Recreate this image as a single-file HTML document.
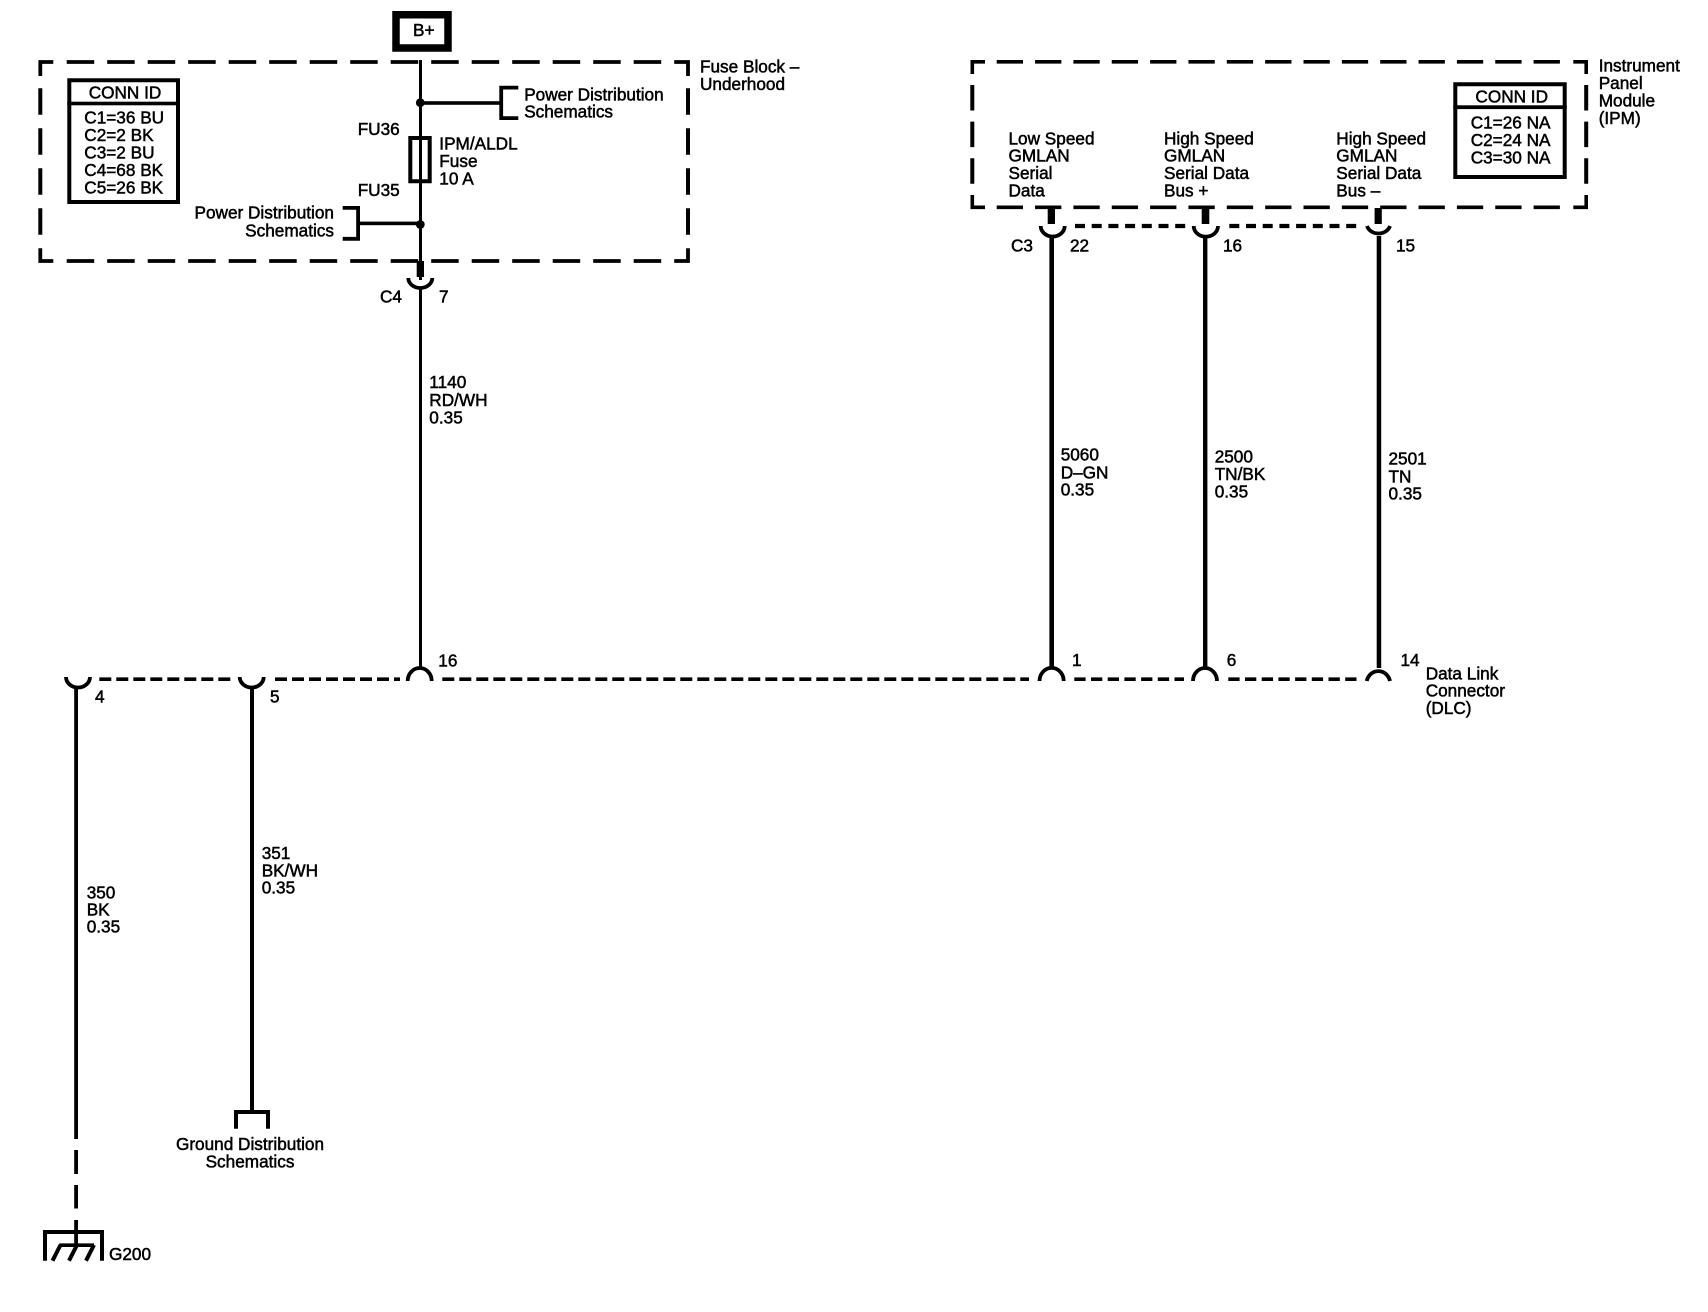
<!DOCTYPE html>
<html>
<head>
<meta charset="utf-8">
<style>
html,body{margin:0;padding:0;background:#fff;width:1708px;height:1312px;overflow:hidden}
svg{display:block}
text{font-family:"Liberation Sans",sans-serif;font-size:17.2px;fill:#000;stroke:#000;stroke-width:.5px}
.e{text-anchor:end}.m{text-anchor:middle}
rect{fill:#000}
.l{fill:none;stroke:#000}
</style>
</head>
<body>
<svg width="1708" height="1312" viewBox="0 0 1708 1312" xmlns="http://www.w3.org/2000/svg">
<rect x="0" y="0" width="1708" height="1312" style="fill:#fff"/>

<!-- B+ -->
<path d="M396,14.7H448V48H396Z" class="l" stroke-width="7.5"/>
<text x="413" y="36">B+</text>

<!-- Fuse block dashed outline -->
<path class="l" stroke-width="3.8" d="M40.3,76V62H53.3"/>
<path class="l" stroke-width="3.8" stroke-dasharray="27.5 13" d="M66.7,62H672"/>
<path class="l" stroke-width="3.8" d="M674.2,62H688V76"/>
<path class="l" stroke-width="3.8" d="M40.3,248.3V261H53.3"/>
<path class="l" stroke-width="3.8" stroke-dasharray="27.5 13" d="M66.7,261H672"/>
<path class="l" stroke-width="3.8" d="M674.2,261H688V248.3"/>
<path class="l" stroke-width="4" stroke-dasharray="26.5 13.5" d="M40.3,88.3V236"/>
<path class="l" stroke-width="4" stroke-dasharray="26.5 13.5" d="M688,88.3V236"/>

<!-- Left CONN ID -->
<path class="l" stroke-width="4" d="M69.3,80.3H178V202H69.3Z"/>
<rect x="67.3" y="101.7" width="112.7" height="3.6"/>
<text x="125" y="98.7" class="m">CONN ID</text>
<text x="84.3" y="123.5">C1=36 BU</text>
<text x="84.3" y="141">C2=2 BK</text>
<text x="84.3" y="158.5">C3=2 BU</text>
<text x="84.3" y="176">C4=68 BK</text>
<text x="84.3" y="193.5">C5=26 BK</text>

<!-- Main wire -->
<rect x="419" y="60" width="3" height="220"/>
<circle cx="420.3" cy="102.7" r="4.4"/>
<circle cx="420.3" cy="224.5" r="4.4"/>
<rect x="420" y="101.2" width="80" height="3.6"/>
<path class="l" stroke-width="3.8" d="M518.3,87.6H501.2V118.1H518.3"/>
<text x="524.2" y="100.7">Power Distribution</text>
<text x="524.2" y="117.5">Schematics</text>

<text x="357.7" y="135">FU36</text>
<text x="357.7" y="196">FU35</text>
<path class="l" stroke-width="4" d="M410.3,138H429.7V181.3H410.3Z"/>
<text x="439.3" y="149.5">IPM/ALDL</text>
<text x="439.3" y="167">Fuse</text>
<text x="439.3" y="184.3">10 A</text>

<path class="l" stroke-width="3.8" d="M342.7,207.9H358.1V238.8H342.7"/>
<rect x="358" y="221.6" width="62" height="3.6"/>
<text x="334" y="218.5" class="e">Power Distribution</text>
<text x="334" y="236.5" class="e">Schematics</text>

<text x="700" y="72.3">Fuse Block –</text>
<text x="700" y="90">Underhood</text>

<!-- C4 -->
<rect x="416.7" y="261" width="7.3" height="16"/>
<path class="l" stroke-width="3.8" d="M408.3,278A12,10 0 0 0 432.3,278"/>
<rect x="419" y="288" width="3" height="380"/>
<text x="380" y="302.7">C4</text>
<text x="439" y="302.7">7</text>
<text x="429.3" y="388">1140</text>
<text x="429.3" y="406">RD/WH</text>
<text x="429.3" y="423.3">0.35</text>

<!-- IPM dashed outline -->
<path class="l" stroke-width="3.6" d="M972.3,74V61.8H985"/>
<path class="l" stroke-width="3.6" stroke-dasharray="26.3 12.05" d="M996.7,61.8H1562"/>
<path class="l" stroke-width="3.6" d="M1573.3,61.8H1586.2V74"/>
<path class="l" stroke-width="3.6" d="M972.3,195V207.3H985"/>
<path class="l" stroke-width="3.6" stroke-dasharray="26.3 12.05" d="M996.7,207.3H1562"/>
<path class="l" stroke-width="3.6" d="M1573.3,207.3H1586.2V195"/>
<path class="l" stroke-width="4" stroke-dasharray="25.5 11.1" d="M972.3,85V184"/>
<path class="l" stroke-width="4" stroke-dasharray="25.5 11.1" d="M1586.2,85V184"/>

<text x="1008.5" y="144.3">Low Speed</text>
<text x="1008.5" y="161.7">GMLAN</text>
<text x="1008.5" y="179">Serial</text>
<text x="1008.5" y="196.3">Data</text>
<text x="1164" y="144.3">High Speed</text>
<text x="1164" y="161.7">GMLAN</text>
<text x="1164" y="179">Serial Data</text>
<text x="1164" y="196.3">Bus +</text>
<text x="1336.3" y="144.3">High Speed</text>
<text x="1336.3" y="161.7">GMLAN</text>
<text x="1336.3" y="179">Serial Data</text>
<text x="1336.3" y="196.3">Bus –</text>

<!-- Right CONN ID -->
<path class="l" stroke-width="4" d="M1455.3,84.3H1564.7V177H1455.3Z"/>
<rect x="1453.3" y="105.3" width="113.4" height="3.8"/>
<text x="1511.7" y="102.3" class="m">CONN ID</text>
<text x="1470.7" y="128.7">C1=26 NA</text>
<text x="1470.7" y="146">C2=24 NA</text>
<text x="1470.7" y="163.3">C3=30 NA</text>

<text x="1598.7" y="71.7">Instrument</text>
<text x="1598.7" y="89">Panel</text>
<text x="1598.7" y="106.3">Module</text>
<text x="1598.7" y="124">(IPM)</text>

<!-- C3 connectors -->
<rect x="1047.7" y="208" width="7.3" height="16"/>
<rect x="1201.7" y="208" width="7.6" height="16"/>
<rect x="1374.6" y="208" width="7.2" height="16"/>
<path class="l" stroke-width="3.8" d="M1040.7,226A12,10.5 0 0 0 1064.7,226"/>
<path class="l" stroke-width="3.8" d="M1193.7,226A12,10.5 0 0 0 1218,226"/>
<path class="l" stroke-width="3.8" d="M1367,226A12,10.5 0 0 0 1390,226"/>
<path class="l" stroke-width="4.2" stroke-dasharray="10 6.7" d="M1075,226H1187"/>
<path class="l" stroke-width="4.2" stroke-dasharray="10 6.7" d="M1229.3,226H1357"/>
<rect x="1049.4" y="236" width="4.6" height="432"/>
<rect x="1203" y="236" width="4.4" height="432"/>
<rect x="1376.7" y="236" width="4.5" height="432"/>
<text x="1011" y="251.3">C3</text>
<text x="1070" y="251.3">22</text>
<text x="1223" y="251.3">16</text>
<text x="1396" y="251.3">15</text>

<text x="1060.7" y="460.7">5060</text>
<text x="1060.7" y="478.3">D–GN</text>
<text x="1060.7" y="495.7">0.35</text>
<text x="1214.7" y="462.5">2500</text>
<text x="1214.7" y="480">TN/BK</text>
<text x="1214.7" y="497.7">0.35</text>
<text x="1388.5" y="464.7">2501</text>
<text x="1388.5" y="482.3">TN</text>
<text x="1388.5" y="499.7">0.35</text>

<!-- DLC bus -->
<path class="l" stroke-width="3.7" stroke-dasharray="12 5" d="M99.3,679.2H231"/>
<path class="l" stroke-width="3.7" stroke-dasharray="12 5" d="M275,679.2H400"/>
<path class="l" stroke-width="3.7" stroke-dasharray="12 5" d="M442.3,679.2H1029"/>
<path class="l" stroke-width="3.7" stroke-dasharray="11.3 5.4" d="M1074.3,679.2H1184"/>
<path class="l" stroke-width="3.7" stroke-dasharray="11.3 5.4" d="M1228.3,679.2H1357"/>

<path class="l" stroke-width="3.8" d="M66,677A12,10.5 0 0 0 90,677"/>
<path class="l" stroke-width="3.8" d="M239.7,677A12,10.5 0 0 0 263.7,677"/>
<path class="l" stroke-width="3.8" d="M407.7,681A12,13 0 0 1 431.7,681"/>
<path class="l" stroke-width="3.8" d="M1039.5,681A12,13 0 0 1 1063.7,681"/>
<path class="l" stroke-width="3.8" d="M1193,681A12,13 0 0 1 1217,681"/>
<path class="l" stroke-width="3.8" d="M1366.7,681A12,13 0 0 1 1390,681"/>

<text x="438.3" y="666.7">16</text>
<text x="1072" y="666">1</text>
<text x="1226.7" y="666">6</text>
<text x="1400.5" y="666">14</text>
<text x="95" y="702.3">4</text>
<text x="270" y="702.3">5</text>
<text x="1425.7" y="679.3">Data Link</text>
<text x="1425.7" y="696.7">Connector</text>
<text x="1425.7" y="714">(DLC)</text>

<!-- Lower wires -->
<rect x="74.2" y="688" width="3.8" height="451"/>
<rect x="74.2" y="1150" width="3.8" height="24"/>
<rect x="74.2" y="1185" width="3.8" height="23.5"/>
<rect x="74.2" y="1220" width="3.8" height="24"/>
<rect x="250" y="688" width="4" height="424"/>
<path class="l" stroke-width="4" d="M236,1128.7V1112H268V1128.7"/>

<text x="86.7" y="898.3">350</text>
<text x="86.7" y="915.5">BK</text>
<text x="86.7" y="932.7">0.35</text>
<text x="261.7" y="859">351</text>
<text x="261.7" y="876.7">BK/WH</text>
<text x="261.7" y="893.7">0.35</text>

<text x="250" y="1150" class="m">Ground Distribution</text>
<text x="250" y="1167.3" class="m">Schematics</text>

<!-- Ground G200 -->
<path class="l" stroke-width="4" d="M45,1260.7V1232H102V1260.7"/>
<path class="l" stroke-width="3.6" d="M94,1245.2H59.3"/>
<path class="l" stroke-width="4" d="M60.5,1245L52.5,1260.7M77,1245L69,1260.7M94,1245L86,1260.7"/>
<text x="109" y="1260">G200</text>
</svg>
</body>
</html>
